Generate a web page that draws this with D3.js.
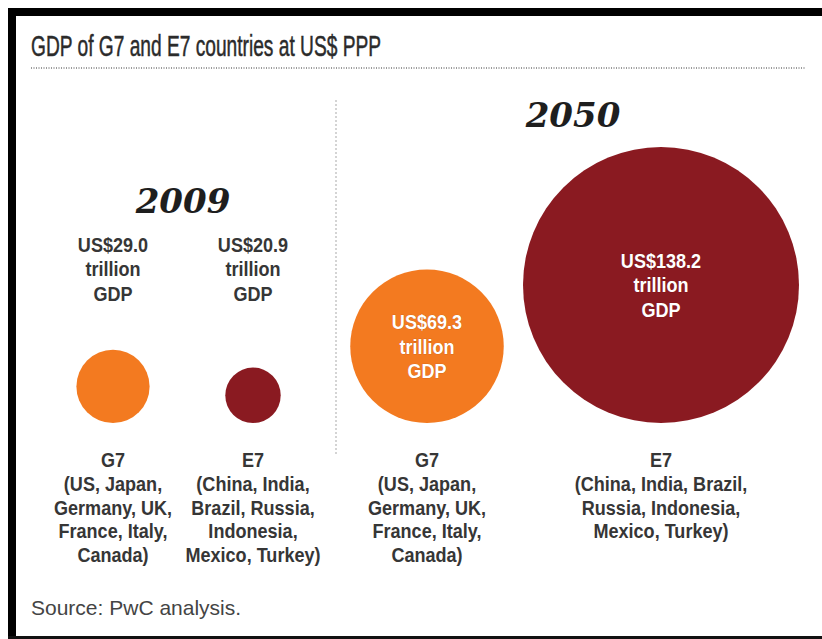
<!DOCTYPE html>
<html>
<head>
<meta charset="utf-8">
<script src="https://cdn.jsdelivr.net/npm/d3@7"></script>
<style>
  html, body { margin: 0; padding: 0; background: #fff; }
  svg { display: block; }
</style>
</head>
<body>
<svg id="chart" width="822" height="639"></svg>
<script>
// ---- data ----
const title = "GDP of G7 and E7 countries at US$ PPP";
const source = "Source: PwC analysis.";
const years = ["2009", "2050"];
const groups = ["G7", "E7"];
const gdp2009 = [29.0, 20.9];   // US$ trillion, PPP
const gdp2050 = [69.3, 138.2];
const members2009 = [
  ["(US, Japan,", "Germany, UK,", "France, Italy,", "Canada)"],
  ["(China, India,", "Brazil, Russia,", "Indonesia,", "Mexico, Turkey)"]
];
const members2050 = [
  ["(US, Japan,", "Germany, UK,", "France, Italy,", "Canada)"],
  ["(China, India, Brazil,", "Russia, Indonesia,", "Mexico, Turkey)"]
];
const valueLines = v => [`US$${v.toFixed(1)}`, "trillion", "GDP"];

// ---- styles ----
const W = 822, H = 639;
const sans = "'Liberation Sans',Arial,Helvetica,sans-serif";
const serif = "'DejaVu Serif','Liberation Serif',serif";
const textColor = "#363636";
const squeeze = 0.86;            // condensed look for the label face
const color = d3.scaleOrdinal(groups, ["#F37A20", "#8A1A21"]);

const svg = d3.select("#chart");
svg.append("rect").attr("width", W).attr("height", H).attr("fill", "#fff");

// frame: heavy top and left rules, thin bottom rule
svg.append("rect").attr("x", 8).attr("y", 8).attr("width", W - 8).attr("height", 8).attr("fill", "#000");
svg.append("rect").attr("x", 8).attr("y", 8).attr("width", 8).attr("height", H - 8).attr("fill", "#000");
svg.append("rect").attr("x", 8).attr("y", H - 3).attr("width", W - 8).attr("height", 3).attr("fill", "#111");

// title + dotted rule
svg.append("text")
  .attr("x", 31).attr("y", 56)
  .attr("font-family", sans).attr("font-size", 30)
  .attr("textLength", 350).attr("lengthAdjust", "spacingAndGlyphs")
  .attr("fill", "#2b2b2b").attr("stroke", "#2b2b2b").attr("stroke-width", 0.5)
  .text(title);
svg.append("line")
  .attr("x1", 31).attr("x2", 805).attr("y1", 68).attr("y2", 68)
  .attr("stroke", "#7a7a7a").attr("stroke-width", 1.5).attr("stroke-dasharray", "1,1.5");

// divider between the two years
svg.append("line")
  .attr("x1", 336).attr("x2", 336).attr("y1", 100).attr("y2", 456)
  .attr("stroke", "#b8b8b8").attr("stroke-width", 1.2).attr("stroke-dasharray", "2,2");

// circle size: one power scale shared by both years
const r = d3.scalePow().exponent(0.85).domain([0, d3.max(gdp2050)]).range([0, 138]);
const baseY = 423;   // circles sit on a common baseline

const panels = [
  { year: years[0], values: gdp2009, members: members2009, range: [43, 323], yearY: 213, yearDx: 0, inside: false },
  { year: years[1], values: gdp2050, members: members2050, range: [310, 778], yearY: 127, yearDx: 29, inside: true }
];

// multi-line, horizontally condensed text block centred on x
function block(g, x, y0, step, lines, fill) {
  const t = g.append("text")
    .attr("transform", `translate(${x},0) scale(${squeeze},1)`)
    .attr("text-anchor", "middle")
    .attr("font-family", sans).attr("font-weight", "bold")
    .attr("font-size", 21)
    .attr("fill", fill);
  lines.forEach((ln, k) => {
    t.append("tspan").attr("x", 0).attr("y", y0 + k * step).text(ln);
  });
  return t;
}

panels.forEach(p => {
  const x = d3.scaleBand().domain(groups).range(p.range);
  const cx = g => x(g) + x.bandwidth() / 2;
  const g = svg.append("g");

  g.append("text")
    .attr("x", (p.range[0] + p.range[1]) / 2 + p.yearDx)
    .attr("y", p.yearY)
    .attr("text-anchor", "middle")
    .attr("font-family", serif).attr("font-weight", "bold").attr("font-style", "italic")
    .attr("font-size", 34).attr("fill", "#1e1e1e")
    .text(p.year);

  const items = groups.map((grp, i) => ({ grp, v: p.values[i], members: p.members[i] }));

  g.selectAll("circle").data(items).join("circle")
    .attr("cx", d => cx(d.grp))
    .attr("cy", d => baseY - r(d.v))
    .attr("r", d => r(d.v))
    .attr("fill", d => color(d.grp));

  // value labels: above the circle for 2009, inside for 2050
  items.forEach(d => {
    const y0 = p.inside ? baseY - r(d.v) - 17 : 252;
    const t = block(g, cx(d.grp), y0, 24.5, valueLines(d.v), p.inside ? "#fff" : textColor);
    if (p.inside) t.attr("stroke", "rgba(60,0,0,0.35)").attr("stroke-width", 0.6).attr("paint-order", "stroke");
  });

  // group name and members below
  items.forEach(d => {
    block(g, cx(d.grp), 467, 23.8, [d.grp, ...d.members], textColor);
  });
});

svg.append("text")
  .attr("x", 31).attr("y", 615)
  .attr("font-family", sans).attr("font-size", 21)
  .attr("fill", "#444")
  .text(source);
</script>
</body>
</html>
